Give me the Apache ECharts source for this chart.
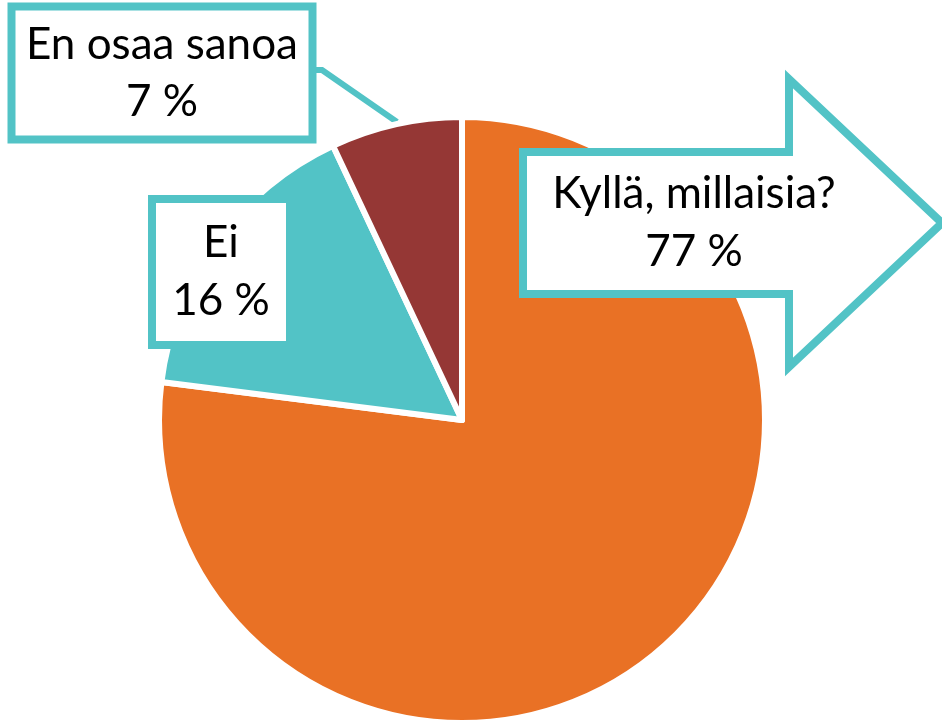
<!DOCTYPE html>
<html>
<head>
<meta charset="utf-8">
<script src="https://cdn.jsdelivr.net/npm/echarts@6/dist/echarts.min.js"></script>
<style>
  html, body { margin: 0; padding: 0; background: #fff; }
  #chart { width: 942px; height: 721px; }
</style>
</head>
<body>
<div id="chart"></div>
<script>
const categories = ['Kyllä, millaisia?', 'Ei', 'En osaa sanoa']
const shares = [77, 16, 7]
const sliceColors = ['#E97125', '#52C3C6', '#953735']

const teal = '#52C3C6'
const fontFamily = 'Lato'
const fontSize = 44

// where each label box sits (px, box centre)
const labelPlaces = [
  { x: 730, y: 223 },
  { x: 221, y: 272 },
  { x: 162, y: 73 }
]

// arrow callout behind the first label, drawn once on a small canvas
function arrowCanvas(w, h) {
  const cv = document.createElement('canvas')
  cv.width = w
  cv.height = h
  const ctx = cv.getContext('2d')
  const pts = [[8, 84], [274, 84], [274, 11], [427, 155], [274, 299], [274, 226], [8, 226]]
  ctx.beginPath()
  pts.forEach(function(p, i) {
    if (i === 0) ctx.moveTo(p[0], p[1])
    else ctx.lineTo(p[0], p[1])
  })
  ctx.closePath()
  ctx.fillStyle = '#fff'
  ctx.fill()
  ctx.lineWidth = 8
  ctx.lineJoin = 'miter'
  ctx.strokeStyle = teal
  ctx.stroke()
  return cv
}

const boxLabel = function(width, pad, lineHeight) {
  return {
    show: true,
    formatter: '{b}\n{c} %',
    color: '#000',
    fontFamily: fontFamily,
    fontSize: fontSize,
    lineHeight: lineHeight,
    align: 'center',
    backgroundColor: '#fff',
    borderColor: teal,
    borderWidth: 8,
    width: width,
    padding: pad
  }
}

const labelOptions = [
  {
    show: true,
    formatter: '{b}\n{c} %',
    color: '#000',
    fontFamily: fontFamily,
    fontSize: fontSize,
    lineHeight: 58,
    align: 'center',
    backgroundColor: { image: arrowCanvas(430, 310) },
    width: 300,
    padding: [93, 101, 101, 29]
  },
  boxLabel(130, [11, 0, 11, 0], 58),
  boxLabel(293, [6, 0, 5, 0], 57)
]

const chart = echarts.init(document.getElementById('chart'))

chart.setOption({
  animation: false,
  backgroundColor: '#fff',
  series: [{
    type: 'pie',
    center: [462, 420],
    radius: 303,
    startAngle: 90,
    clockwise: true,
    avoidLabelOverlap: false,
    emphasis: { disabled: true },
    itemStyle: {
      borderColor: '#fff',
      borderWidth: 6
    },
    labelLayout: function(params) {
      const p = labelPlaces[params.dataIndex]
      const out = { x: p.x, y: p.y, align: 'center', verticalAlign: 'middle' }
      if (params.dataIndex === 2) {
        out.labelLinePoints = [[397, 122], [322, 70], [309, 70]]
      }
      return out
    },
    data: categories.map(function(name, i) {
      return {
        name: name,
        value: shares[i],
        itemStyle: { color: sliceColors[i] },
        label: labelOptions[i],
        labelLine: {
          show: i === 2,
          smooth: false,
          lineStyle: { color: teal, width: 6 }
        }
      }
    })
  }]
})
</script>
</body>
</html>
